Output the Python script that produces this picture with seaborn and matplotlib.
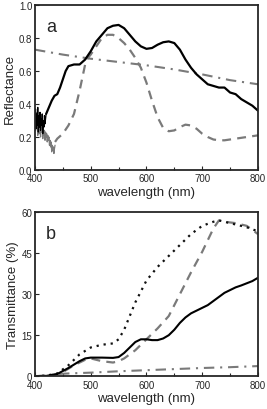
import numpy as np
import pandas as pd
import matplotlib
matplotlib.use("Agg")
import matplotlib.pyplot as plt
import seaborn as sns
from matplotlib.ticker import MultipleLocator

# ---- panel a: reflectance ----
# noisy start of the black curve (1 nm steps)
a_black_noise_x = list(range(400, 421))
a_black_noise_y = [0.30, 0.37, 0.25, 0.34, 0.27, 0.38, 0.23, 0.33, 0.26, 0.35, 0.24,
                   0.31, 0.27, 0.34, 0.22, 0.30, 0.26, 0.33, 0.28, 0.31, 0.34]
a_black_x = [420, 425, 430, 435, 440, 445, 450, 455, 460, 470, 480, 490, 500, 510, 520,
             530, 540, 550, 560, 570, 580, 590, 600, 610, 620, 630, 640, 650, 660, 670,
             680, 690, 700, 710, 720, 730, 740, 750, 760, 770, 780, 790, 800]
a_black_y = [0.34, 0.38, 0.42, 0.45, 0.46, 0.50, 0.55, 0.60, 0.63, 0.64, 0.64, 0.67, 0.72,
             0.78, 0.82, 0.86, 0.875, 0.88, 0.86, 0.82, 0.78, 0.75, 0.735, 0.74, 0.76,
             0.775, 0.78, 0.77, 0.73, 0.67, 0.62, 0.58, 0.55, 0.52, 0.51, 0.50, 0.50,
             0.47, 0.46, 0.43, 0.41, 0.39, 0.36]

# noisy grey start of the dashed curve
a_grey_noise_x = list(range(400, 437))
a_grey_noise_y = [0.32, 0.24, 0.35, 0.26, 0.31, 0.21, 0.29, 0.33, 0.22, 0.28, 0.20,
                  0.27, 0.23, 0.29, 0.19, 0.25, 0.21, 0.24, 0.18, 0.23, 0.20, 0.22,
                  0.17, 0.21, 0.18, 0.20, 0.15, 0.18, 0.14, 0.17, 0.11, 0.15, 0.12,
                  0.14, 0.10, 0.13, 0.15]
a_dash_x = [436, 440, 450, 460, 470, 480, 490, 495, 500, 510, 520, 530, 540, 550, 560,
            570, 580, 590, 600, 610, 620, 630, 640, 650, 660, 670, 680, 690, 700, 710,
            720, 730, 740, 750, 760, 770, 780, 790, 800]
a_dash_y = [0.17, 0.19, 0.22, 0.27, 0.34, 0.48, 0.64, 0.68, 0.70, 0.75, 0.80, 0.82, 0.82,
            0.80, 0.77, 0.73, 0.68, 0.62, 0.53, 0.42, 0.32, 0.255, 0.235, 0.24, 0.26,
            0.275, 0.27, 0.25, 0.22, 0.20, 0.185, 0.18, 0.18, 0.185, 0.19, 0.195, 0.20,
            0.205, 0.21]

a_dashdot_x = [400, 450, 500, 550, 600, 650, 700, 750, 800]
a_dashdot_y = [0.73, 0.70, 0.675, 0.655, 0.635, 0.61, 0.58, 0.545, 0.52]

# ---- panel b: transmittance ----
b_black_x = [400, 420, 440, 460, 480, 490, 500, 520, 540, 550, 560, 570, 580, 590, 600,
             610, 620, 630, 640, 650, 660, 670, 680, 690, 700, 710, 720, 730, 740, 750,
             760, 770, 780, 790, 800]
b_black_y = [0, 0.1, 0.8, 3, 5.5, 6.5, 6.8, 6.8, 6.7, 7, 8.5, 10.5, 12.5, 13.5, 13.5,
             13.2, 13.2, 13.8, 15, 17, 19.5, 21.5, 23, 24, 25, 26, 27.5, 29, 30.5, 31.5,
             32.5, 33.2, 34, 34.8, 36]

b_dot_x = [400, 420, 440, 460, 480, 500, 520, 540, 550, 560, 570, 580, 590, 600, 620,
           640, 660, 680, 700, 720, 730, 740, 760, 780, 800]
b_dot_y = [0, 0.2, 1, 4, 8, 10.5, 11.5, 12, 13.5, 17, 22, 27, 31, 35, 40, 44, 48, 52,
           55, 56.5, 57, 56.5, 55.5, 54.5, 53]

b_dash_x = [400, 430, 450, 470, 490, 500, 520, 540, 550, 560, 580, 600, 620, 640, 660,
            680, 700, 720, 730, 740, 760, 780, 800]
b_dash_y = [0, 0.3, 1.5, 4, 6, 6.5, 5.5, 5, 5.5, 6.5, 9.5, 13.5, 17.5, 22, 30, 38, 45.5,
            54, 57, 56.5, 56, 55, 52]

b_dashdot_x = [400, 420, 440, 460, 500, 550, 600, 650, 700, 750, 800]
b_dashdot_y = [0, 0.2, 0.8, 1, 1.3, 1.8, 2.2, 2.6, 3, 3.3, 3.7]

grey = "#7a7a7a"


def df(x, y):
    return pd.DataFrame({"x": x, "y": y})


def make_chart():
    sns.set_style("ticks")
    plt.rcParams["font.family"] = ["Liberation Sans", "DejaVu Sans"]

    fig = plt.figure(figsize=(2.67, 4.10), dpi=100)
    ax1 = fig.add_axes([0.131, 0.583, 0.835, 0.402])
    ax2 = fig.add_axes([0.131, 0.080, 0.835, 0.400])

    # panel a
    sns.lineplot(data=df(a_dashdot_x, a_dashdot_y), x="x", y="y", ax=ax1, color=grey,
                 lw=1.5, linestyle=(0, (5, 2.8, 1, 2.8)))
    sns.lineplot(data=df(a_grey_noise_x, a_grey_noise_y), x="x", y="y", ax=ax1,
                 color=grey, lw=0.9)
    sns.lineplot(data=df(a_dash_x, a_dash_y), x="x", y="y", ax=ax1, color=grey,
                 lw=1.6, linestyle=(0, (4, 2.8)))
    sns.lineplot(data=df(a_black_noise_x, a_black_noise_y), x="x", y="y", ax=ax1,
                 color="black", lw=0.9)
    sns.lineplot(data=df(a_black_x, a_black_y), x="x", y="y", ax=ax1, color="black",
                 lw=1.6)
    ax1.set_ylim(0, 1.0)
    ax1.yaxis.set_major_locator(MultipleLocator(0.2))
    ax1.yaxis.set_major_formatter(plt.FormatStrFormatter("%.1f"))
    ax1.set_ylabel("Reflectance", fontsize=9.5, labelpad=2)
    ax1.text(0.05, 0.92, "a", transform=ax1.transAxes, fontsize=13, va="top")

    # panel b
    sns.lineplot(data=df(b_dashdot_x, b_dashdot_y), x="x", y="y", ax=ax2, color=grey,
                 lw=1.5, linestyle=(0, (5, 2.8, 1, 2.8)))
    sns.lineplot(data=df(b_dash_x, b_dash_y), x="x", y="y", ax=ax2, color=grey,
                 lw=1.6, linestyle=(0, (4, 2.8)))
    sns.lineplot(data=df(b_dot_x, b_dot_y), x="x", y="y", ax=ax2, color="#111111",
                 lw=1.6, linestyle=(0, (1, 2.2)))
    sns.lineplot(data=df(b_black_x, b_black_y), x="x", y="y", ax=ax2, color="black",
                 lw=1.5)
    ax2.set_ylim(0, 60)
    ax2.yaxis.set_major_locator(MultipleLocator(15))
    ax2.set_ylabel("Transmittance (%)", fontsize=9.5, labelpad=2)
    ax2.text(0.05, 0.92, "b", transform=ax2.transAxes, fontsize=13, va="top")

    for ax in (ax1, ax2):
        ax.set_xlim(400, 800)
        ax.xaxis.set_major_locator(MultipleLocator(100))
        ax.xaxis.set_minor_locator(MultipleLocator(50))
        ax.tick_params(which="both", direction="in", labelsize=7,
                       top=False, right=False)
        ax.tick_params(axis="x", pad=2.5)
        ax.tick_params(axis="y", pad=2)
        ax.tick_params(which="major", length=3, width=0.8)
        ax.tick_params(which="minor", length=2, width=0.8)
        ax.set_xlabel("wavelength (nm)", fontsize=9.5, labelpad=1.5)
        for s in ax.spines.values():
            s.set_linewidth(1.3)
            s.set_visible(True)

    fig.savefig("out.png", dpi=100)


if __name__ == "__main__":
    make_chart()
